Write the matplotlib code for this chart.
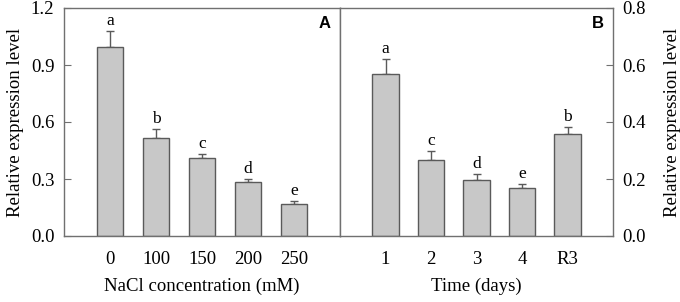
import numpy as np
import matplotlib
matplotlib.use("Agg")
from matplotlib import pyplot as plt

plt.rcParams['font.family'] = ['Liberation Serif', 'DejaVu Serif']

# panel A
nacl_labels = ['0', '100', '150', '200', '250']
nacl_vals = [0.996, 0.518, 0.408, 0.286, 0.169]
nacl_err = [0.085, 0.044, 0.022, 0.014, 0.014]
nacl_letters = ['a', 'b', 'c', 'd', 'e']

# panel B
time_labels = ['1', '2', '3', '4', 'R3']
time_vals = [0.568, 0.267, 0.198, 0.169, 0.358]
time_err = [0.053, 0.032, 0.021, 0.013, 0.025]
time_letters = ['a', 'c', 'd', 'e', 'b']

bar_col = '#c8c8c8'
edge_col = '#5a5a5a'
spine_col = '#707070'

fig = plt.figure(figsize=(6.8, 3.02), dpi=100)
W, H = 680, 302
axA = fig.add_axes([64 / W, 1 - 236 / H, 276 / W, 228 / H])
axB = fig.add_axes([340 / W, 1 - 236 / H, 273 / W, 228 / H])


def draw(ax, labels, vals, err, letters, ymax, yticks, right=False):
    x = np.arange(len(vals))
    ax.bar(x, vals, width=0.58, color=bar_col, edgecolor=edge_col, linewidth=1.0, zorder=2)
    ax.errorbar(x, vals, yerr=[np.zeros(len(err)), err], fmt='none', ecolor=edge_col,
                elinewidth=1.0, capsize=3, capthick=1.0, zorder=1)
    for xi, v, e, t in zip(x, vals, err, letters):
        ax.text(xi, v + e + ymax * 0.008, t, ha='center', va='bottom', fontsize=12.5)
    ax.set_xlim(-1, 5)
    ax.set_ylim(0, ymax)
    ax.set_xticks(x)
    ax.set_xticklabels(labels, fontsize=13.5)
    ax.set_yticks(yticks)
    ax.tick_params(axis='x', length=0, pad=11)
    ax.tick_params(axis='y', direction='in', length=5, color=spine_col, labelsize=13.5, pad=7)
    if right:
        ax.yaxis.tick_right()
        ax.yaxis.set_label_position('right')
    ax.set_yticklabels(['%.1f' % t for t in yticks])
    for s in ax.spines.values():
        s.set_color(spine_col)
        s.set_linewidth(1.0)


draw(axA, nacl_labels, nacl_vals, nacl_err, nacl_letters, 1.2, [0.0, 0.3, 0.6, 0.9, 1.2])
draw(axB, time_labels, time_vals, time_err, time_letters, 0.8, [0.0, 0.2, 0.4, 0.6, 0.8], right=True)

axA.set_ylabel('Relative expression level', fontsize=13.5, labelpad=5)
axB.set_ylabel('Relative expression level', fontsize=13.5, labelpad=13, rotation=90)
axA.set_xlabel('NaCl concentration (mM)', fontsize=13.5, labelpad=7)
axB.set_xlabel('Time (days)', fontsize=13.5, labelpad=7)

axA.text(0.965, 0.93, 'A', transform=axA.transAxes, ha='right', va='center',
         fontsize=12, fontweight='bold', family=['Liberation Sans', 'DejaVu Sans'])
axB.text(0.965, 0.93, 'B', transform=axB.transAxes, ha='right', va='center',
         fontsize=12, fontweight='bold', family=['Liberation Sans', 'DejaVu Sans'])

fig.savefig('out.png', dpi=100)
